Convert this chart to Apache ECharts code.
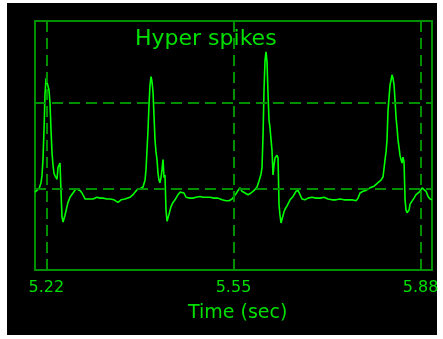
<!DOCTYPE html>
<html>
<head>
<meta charset="utf-8">
<script src="https://cdn.jsdelivr.net/npm/echarts@6.0.0/dist/echarts.min.js"></script>
<style>
  html, body { margin: 0; padding: 0; background: #ffffff; }
  #bg { position: absolute; left: 7px; top: 3px; width: 430px; height: 332px; background: #000000; }
  #chart { position: absolute; left: 0; top: 0; width: 443px; height: 339px; }
</style>
</head>
<body>
<div id="bg"></div>
<div id="chart"></div>
<script>
// Time (sec) of each sample
const times = [
  5.2000, 5.2035, 5.2071, 5.2106, 5.2123, 5.2141, 5.2159, 5.2176, 5.2194, 5.2212,
  5.2229, 5.2247, 5.2265, 5.2282, 5.2300, 5.2317, 5.2335, 5.2353, 5.2370, 5.2388,
  5.2406, 5.2441, 5.2458, 5.2476, 5.2494, 5.2511, 5.2529, 5.2564, 5.2582, 5.2617,
  5.2670, 5.2723, 5.2758, 5.2794, 5.2829, 5.2882, 5.2935, 5.2970, 5.3023, 5.3093,
  5.3146, 5.3199, 5.3270, 5.3323, 5.3393, 5.3464, 5.3517, 5.3587, 5.3675, 5.3728,
  5.3763, 5.3816, 5.3852, 5.3904, 5.3940, 5.3957, 5.3975, 5.3993, 5.4010, 5.4028,
  5.4046, 5.4063, 5.4081, 5.4098, 5.4116, 5.4134, 5.4151, 5.4169, 5.4187, 5.4204,
  5.4222, 5.4239, 5.4257, 5.4275, 5.4292, 5.4310, 5.4328, 5.4345, 5.4363, 5.4381,
  5.4398, 5.4433, 5.4469, 5.4522, 5.4557, 5.4592, 5.4627, 5.4663, 5.4698, 5.4733,
  5.4786, 5.4839, 5.4910, 5.4963, 5.5015, 5.5086, 5.5156, 5.5227, 5.5298, 5.5368,
  5.5421, 5.5474, 5.5509, 5.5544, 5.5580, 5.5615, 5.5650, 5.5703, 5.5756, 5.5809,
  5.5862, 5.5915, 5.5950, 5.5985, 5.6003, 5.6021, 5.6038, 5.6056, 5.6073, 5.6091,
  5.6109, 5.6126, 5.6144, 5.6162, 5.6179, 5.6197, 5.6215, 5.6232, 5.6267, 5.6285,
  5.6303, 5.6320, 5.6338, 5.6355, 5.6373, 5.6391, 5.6408, 5.6444, 5.6497, 5.6550,
  5.6602, 5.6638, 5.6673, 5.6708, 5.6761, 5.6814, 5.6885, 5.6955, 5.7026, 5.7096,
  5.7167, 5.7237, 5.7308, 5.7378, 5.7449, 5.7519, 5.7590, 5.7661, 5.7696, 5.7731,
  5.7784, 5.7837, 5.7907, 5.7978, 5.8048, 5.8101, 5.8137, 5.8172, 5.8190, 5.8207,
  5.8225, 5.8260, 5.8278, 5.8295, 5.8313, 5.8331, 5.8348, 5.8366, 5.8384, 5.8401,
  5.8419, 5.8436, 5.8454, 5.8472, 5.8489, 5.8507, 5.8525, 5.8542, 5.8560, 5.8578,
  5.8595, 5.8613, 5.8648, 5.8683, 5.8719, 5.8754, 5.8789, 5.8825, 5.8860, 5.8895,
  5.8930, 5.8966, 5.9000
];
// Signal amplitude at each sample
const amplitudes = [
  -0.04, -0.03, 0.00, 0.07, 0.15, 0.34, 0.69, 1.10, 1.29, 1.27,
  1.20, 1.15, 1.00, 0.69, 0.42, 0.28, 0.18, 0.15, 0.14, 0.11,
  0.25, 0.30, -0.02, -0.33, -0.39, -0.35, -0.31, -0.21, -0.16, -0.10,
  -0.05, 0.00, 0.01, -0.02, -0.05, -0.12, -0.12, -0.11, -0.12, -0.10,
  -0.11, -0.11, -0.12, -0.12, -0.13, -0.16, -0.13, -0.12, -0.10, -0.07,
  -0.04, 0.00, 0.00, 0.02, 0.10, 0.22, 0.45, 0.69, 0.98, 1.21,
  1.31, 1.25, 1.13, 0.86, 0.57, 0.43, 0.34, 0.18, 0.10, 0.07,
  0.13, 0.22, 0.34, 0.13, 0.16, -0.25, -0.38, -0.40, -0.30, -0.25,
  -0.21, -0.16, -0.13, -0.07, -0.04, -0.02, -0.05, -0.10, -0.12, -0.11,
  -0.11, -0.10, -0.09, -0.10, -0.10, -0.10, -0.11, -0.11, -0.13, -0.14,
  -0.14, -0.12, -0.10, -0.06, -0.02, 0.01, -0.03, -0.05, -0.07, -0.05,
  -0.02, 0.02, 0.09, 0.17, 0.25, 0.63, 1.15, 1.50, 1.60, 1.48,
  1.10, 0.80, 0.71, 0.57, 0.45, 0.16, 0.28, 0.36, 0.39, 0.36,
  -0.19, -0.31, -0.40, -0.42, -0.40, -0.27, -0.24, -0.20, -0.13, -0.09,
  -0.03, -0.02, -0.07, -0.12, -0.13, -0.11, -0.10, -0.11, -0.11, -0.10,
  -0.12, -0.13, -0.13, -0.12, -0.13, -0.13, -0.13, -0.14, -0.11, -0.05,
  -0.03, -0.02, 0.01, 0.03, 0.07, 0.10, 0.14, 0.34, 0.43, 0.57,
  0.92, 1.21, 1.27, 1.33, 1.29, 1.21, 1.04, 0.83, 0.71, 0.57,
  0.48, 0.39, 0.34, 0.30, 0.37, 0.31, -0.13, -0.25, -0.28, -0.28,
  -0.25, -0.18, -0.16, -0.11, -0.07, -0.05, -0.03, 0.01, 0.01, -0.03,
  -0.09, -0.12, -0.13
];
// Dashed reference lines and tick labels
const gridTimes = [5.22, 5.55, 5.88];
const gridLevels = [0, 1];
const tickLabels = ['5.22', '5.55', '5.88'];
const chartTitle = 'Hyper spikes';
const xAxisTitle = 'Time (sec)';

const frameColor = '#009000';
const textColor = '#00e000';
const traceColor = '#00ff00';

const seriesData = times.map((t, i) => [t, amplitudes[i]]);

const chart = echarts.init(document.getElementById('chart'), null, { renderer: 'canvas' });
chart.setOption({
  backgroundColor: 'transparent',
  animation: false,
  title: [
    {
      text: chartTitle, left: 135, top: 28, padding: 0,
      textStyle: { color: textColor, fontFamily: 'DejaVu Sans', fontSize: 22, fontWeight: 'normal' }
    },
    {
      text: xAxisTitle, left: 188, top: 304, padding: 0,
      textStyle: { color: textColor, fontFamily: 'DejaVu Sans', fontSize: 19, fontWeight: 'normal' }
    }
  ],
  grid: {
    left: 35, top: 21, width: 397, height: 249,
    show: true, borderColor: frameColor, borderWidth: 2, backgroundColor: 'transparent'
  },
  xAxis: {
    type: 'value', min: 5.2, max: 5.9,
    axisLine: { show: false },
    axisTick: { show: false },
    splitLine: { show: false },
    axisLabel: {
      customValues: gridTimes,
      formatter: (v) => {
        const i = gridTimes.findIndex(g => Math.abs(g - v) < 1e-6);
        return i >= 0 ? tickLabels[i] : '';
      },
      color: textColor, fontFamily: 'DejaVu Sans', fontSize: 16, margin: 10
    }
  },
  yAxis: {
    type: 'value', min: -0.95, max: 1.96, show: false
  },
  series: [{
    type: 'line',
    data: seriesData,
    showSymbol: false,
    symbol: 'none',
    lineStyle: { color: traceColor, width: 1.6 },
    z: 3,
    markLine: {
      silent: true,
      symbol: 'none',
      label: { show: false },
      lineStyle: { color: frameColor, width: 2, type: [11, 6] },
      data: gridTimes.map(t => ({ xAxis: t })).concat(gridLevels.map(v => ({ yAxis: v })))
    }
  }]
});
</script>
</body>
</html>
